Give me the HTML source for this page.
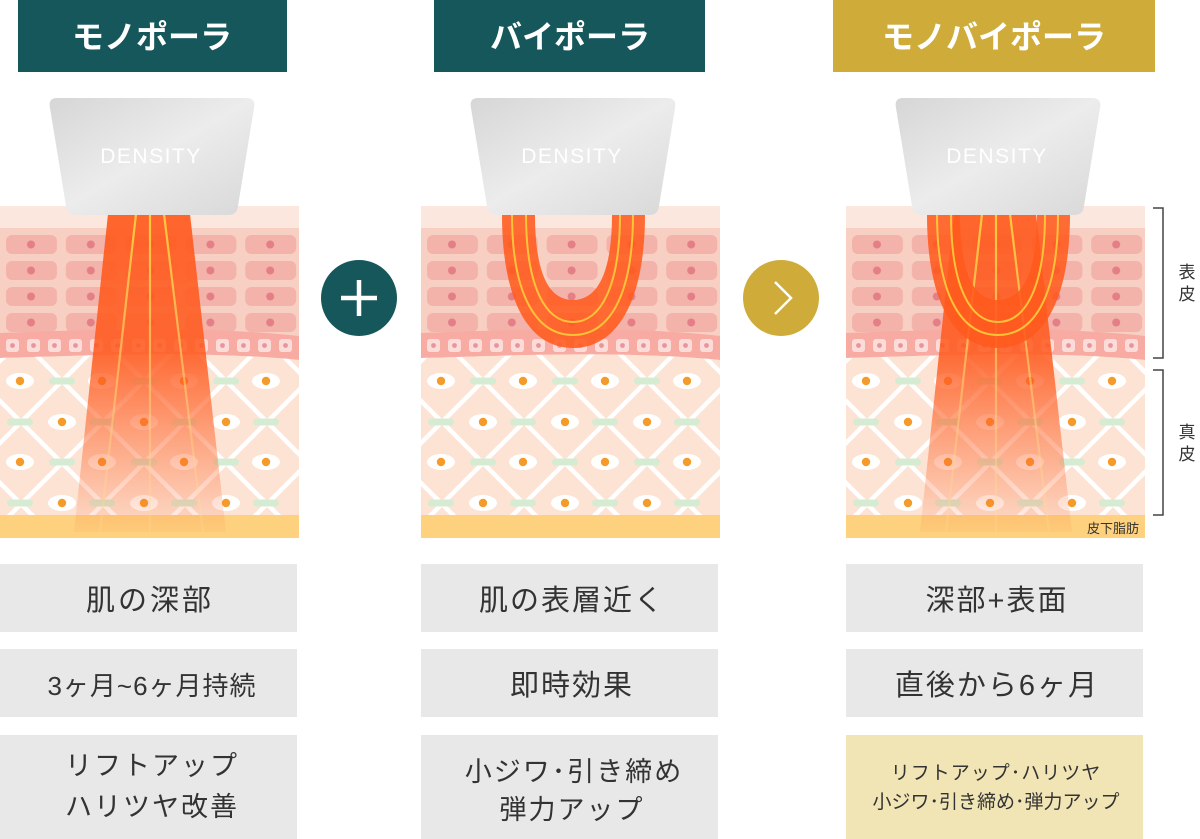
<!DOCTYPE html>
<html><head><meta charset="utf-8"><style>
body{margin:0;background:#fff;}
svg{display:block}
.t{font-family:"Liberation Sans","Noto Sans CJK JP",sans-serif;}
</style></head><body>
<svg width="1200" height="839" viewBox="0 0 1200 839" xmlns="http://www.w3.org/2000/svg">
<defs>
<pattern id="cells" x="0" y="228" width="59.8" height="26" patternUnits="userSpaceOnUse">
<rect x="6" y="7" width="51" height="19" rx="6" fill="#f4b3aa"/>
<circle cx="31" cy="16.5" r="4" fill="#e47f88"/>
</pattern>
<pattern id="lat" x="62" y="381" width="82" height="82" patternUnits="userSpaceOnUse">
<path d="M0,0L82,82M82,0L0,82M-10,72L10,92M72,-10L92,10M-10,10L10,-10M72,92L92,72" stroke="#fff" stroke-width="4.5"/>
</pattern>
<pattern id="basal" x="4" y="335" width="21" height="30" patternUnits="userSpaceOnUse">
<rect x="2" y="4" width="13" height="13" rx="3" fill="#fcdcd9"/>
<circle cx="8.5" cy="10.5" r="2.4" fill="#e8959a"/>
</pattern>
<g id="eye"><ellipse rx="14" ry="8" fill="#fff"/><circle r="4.2" fill="#f59b2a"/></g>
<rect id="gr" x="-13" y="-3.5" width="26" height="7" rx="3.5" fill="#d5ecd3"/>
<linearGradient id="probe" x1="0" y1="0" x2="1" y2="1">
<stop offset="0" stop-color="#d6d6d6"/><stop offset="0.5" stop-color="#ececec"/><stop offset="1" stop-color="#d8d8d8"/>
</linearGradient>
<linearGradient id="beam" x1="0" y1="214" x2="0" y2="535" gradientUnits="userSpaceOnUse">
<stop offset="0" stop-color="#ff5a1e" stop-opacity="0.92"/><stop offset="0.45" stop-color="#ff5a1e" stop-opacity="0.85"/><stop offset="1" stop-color="#ff6a30" stop-opacity="0.05"/>
</linearGradient>
<linearGradient id="yl" x1="0" y1="214" x2="0" y2="535" gradientUnits="userSpaceOnUse">
<stop offset="0" stop-color="#ffc83c"/><stop offset="1" stop-color="#ffe0a0" stop-opacity="0.2"/>
</linearGradient>
<clipPath id="pc"><rect x="0" y="206" width="299" height="332"/></clipPath>
<g id="skin">
<rect x="0" y="206" width="299" height="332" fill="#fce5d7"/>
<rect x="0" y="206" width="299" height="22" fill="#fbe7dd"/>
<rect x="0" y="228" width="299" height="115" fill="#f8d0c3"/>
<rect x="0" y="228" width="299" height="106" fill="url(#cells)"/>
<path d="M0,333 C80,330 200,325 299,336 L299,360 C200,350 80,356 0,358 Z" fill="#f7aba2"/>
<path d="M0,333 C80,330 200,325 299,336 L299,360 C200,350 80,356 0,358 Z" fill="url(#basal)"/>
<path d="M0,358 C80,356 200,350 299,360 L299,515 L0,515Z" fill="#fce3d4"/>
<path d="M0,358 C80,356 200,350 299,360 L299,515 L0,515Z" fill="url(#lat)"/>
<use href="#eye" x="20" y="381"/><use href="#gr" x="62" y="381"/><use href="#eye" x="102" y="381"/><use href="#gr" x="144" y="381"/><use href="#eye" x="184" y="381"/><use href="#gr" x="226" y="381"/><use href="#eye" x="266" y="381"/>
<use href="#gr" x="20" y="422"/><use href="#eye" x="62" y="422"/><use href="#gr" x="102" y="422"/><use href="#eye" x="144" y="422"/><use href="#gr" x="184" y="422"/><use href="#eye" x="226" y="422"/><use href="#gr" x="266" y="422"/>
<use href="#eye" x="20" y="462"/><use href="#gr" x="62" y="462"/><use href="#eye" x="102" y="462"/><use href="#gr" x="144" y="462"/><use href="#eye" x="184" y="462"/><use href="#gr" x="226" y="462"/><use href="#eye" x="266" y="462"/>
<use href="#gr" x="20" y="503"/><use href="#eye" x="62" y="503"/><use href="#gr" x="102" y="503"/><use href="#eye" x="144" y="503"/><use href="#gr" x="184" y="503"/><use href="#eye" x="226" y="503"/><use href="#gr" x="266" y="503"/>
<rect x="0" y="515" width="299" height="23" fill="#fdd17e"/>
</g>
<g id="probeG">
<path d="M57,98 L246,98 Q256,98 254,108 L238,206 Q237,215 228,215 L76,215 Q67,215 66,206 L50,108 Q48,98 57,98Z" fill="url(#probe)"/>
<text x="151" y="163" text-anchor="middle" class="t" font-size="21" fill="#fff" letter-spacing="1.5">DENSITY</text>
</g>
<g id="mono">
<polygon points="108,214 190,214 226,532 74,532" fill="url(#beam)"/>
<path d="M136,214L100,532M150,214L150,532M164,214L203,532" stroke="url(#yl)" stroke-width="2.2" fill="none"/>
</g>
<g id="bi">
<path d="M81,214 C81,305 110,348 152,348 C194,348 224,305 224,214 L191,214 C191,272 177,300 152,300 C127,300 114,272 114,214 Z" fill="#ff5a1e" fill-opacity="0.88"/>
<path d="M91,214 C91,300 118,335 152,335 C186,335 212,300 212,214 M105,214 C105,288 125,322 152,322 C179,322 199,288 199,214" stroke="#ffc33a" stroke-width="2" fill="none"/>
</g>
</defs>

<rect x="18" y="0" width="269" height="72" fill="#15575a"/>
<text x="152" y="48" text-anchor="middle" class="t" font-size="32" font-weight="bold" fill="#fff">モノポーラ</text>
<rect x="434" y="0" width="271" height="72" fill="#15575a"/>
<text x="570" y="48" text-anchor="middle" class="t" font-size="32" font-weight="bold" fill="#fff">バイポーラ</text>
<rect x="833" y="0" width="322" height="72" fill="#cfac3a"/>
<text x="994" y="48" text-anchor="middle" class="t" font-size="32" font-weight="bold" fill="#fff">モノバイポーラ</text>

<g clip-path="url(#pc)"><use href="#skin"/><use href="#mono"/></g>
<use href="#probeG"/>
<g transform="translate(421,0)"><g clip-path="url(#pc)"><use href="#skin"/><use href="#bi"/></g><use href="#probeG"/></g>
<g transform="translate(846,0)"><g clip-path="url(#pc)"><use href="#skin"/><use href="#mono"/><use href="#bi"/></g><use href="#probeG"/>
<text x="293" y="533" text-anchor="end" class="t" font-size="13" fill="#333">皮下脂肪</text></g>

<path d="M1153,208H1163V358H1153M1153,370H1163V515H1153" stroke="#444" stroke-width="1.5" fill="none"/>
<text x="1187" y="278" text-anchor="middle" class="t" font-size="17" fill="#333">表</text>
<text x="1187" y="300" text-anchor="middle" class="t" font-size="17" fill="#333">皮</text>
<text x="1187" y="438" text-anchor="middle" class="t" font-size="17" fill="#333">真</text>
<text x="1187" y="460" text-anchor="middle" class="t" font-size="17" fill="#333">皮</text>

<circle cx="359" cy="298" r="38" fill="#15575a"/>
<path d="M359,280V316M341,298H377" stroke="#fff" stroke-width="4.5"/>
<circle cx="781" cy="298" r="38" fill="#cfac3a"/>
<path d="M775,282L791,298L775,314" stroke="#fff" stroke-width="2.5" fill="none"/>

<g class="t" fill="#333" text-anchor="middle">
<rect x="0" y="564" width="297" height="68" fill="#e8e8e8"/>
<text x="150" y="610" font-size="29" letter-spacing="3">肌の深部</text>
<rect x="0" y="649" width="297" height="68" fill="#e8e8e8"/>
<text x="152" y="695" font-size="26" letter-spacing="1">3ヶ月~6ヶ月持続</text>
<rect x="0" y="735" width="297" height="104" fill="#e8e8e8"/>
<text x="152" y="775" font-size="27" letter-spacing="2">リフトアップ</text>
<text x="152" y="816" font-size="27" letter-spacing="2">ハリツヤ改善</text>

<rect x="421" y="564" width="297" height="68" fill="#e8e8e8"/>
<text x="572" y="610" font-size="29" letter-spacing="2">肌の表層近く</text>
<rect x="421" y="649" width="297" height="68" fill="#e8e8e8"/>
<text x="572" y="695" font-size="29" letter-spacing="2">即時効果</text>
<rect x="421" y="735" width="297" height="104" fill="#e8e8e8"/>
<text x="574" y="781" font-size="27" letter-spacing="2">小ジワ･引き締め</text>
<text x="572" y="819" font-size="27" letter-spacing="2">弾力アップ</text>

<rect x="846" y="564" width="297" height="68" fill="#e8e8e8"/>
<text x="997" y="610" font-size="29" letter-spacing="2">深部+表面</text>
<rect x="846" y="649" width="297" height="68" fill="#e8e8e8"/>
<text x="997" y="695" font-size="29" letter-spacing="2">直後から6ヶ月</text>
<rect x="846" y="735" width="297" height="104" fill="#f1e5b5"/>
<text x="996" y="779" font-size="19" letter-spacing="1">リフトアップ･ハリツヤ</text>
<text x="996" y="808" font-size="19">小ジワ･引き締め･弾力アップ</text>
</g>
</svg>
</body></html>
